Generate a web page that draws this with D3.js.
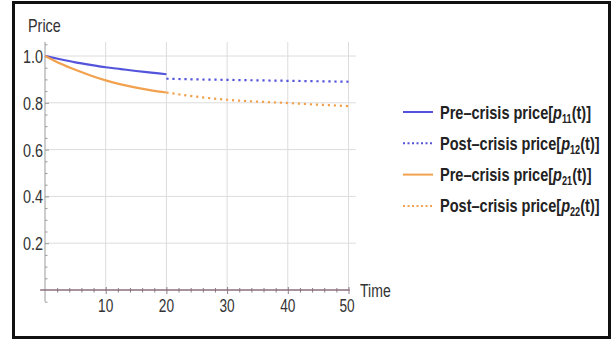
<!DOCTYPE html>
<html>
<head>
<meta charset="utf-8">
<script src="https://cdn.jsdelivr.net/npm/d3@7"></script>
<style>
  html, body { margin: 0; padding: 0; background: #fff; }
  svg { display: block; font-family: "Liberation Sans", Arial, sans-serif; }
</style>
</head>
<body>
<svg id="chart" width="613" height="343"></svg>
<script>
// Time grid and price paths before and after the crisis (t = 20)
const timePre  = [0, 2.5, 5, 7.5, 10, 12.5, 15, 17.5, 20];
const p11      = [1.0, 0.986, 0.973, 0.962, 0.952, 0.944, 0.936, 0.929, 0.922];
const p21      = [1.0, 0.968, 0.941, 0.917, 0.896, 0.879, 0.865, 0.853, 0.844];
const timePost = [20, 25, 30, 35, 40, 45, 50];
const p12      = [0.903, 0.900, 0.898, 0.896, 0.894, 0.892, 0.890];
const p22      = [0.844, 0.826, 0.813, 0.805, 0.799, 0.792, 0.786];

const xTicks = [10, 20, 30, 40, 50];
const yTicks = [0.2, 0.4, 0.6, 0.8, 1.0];

const legendLabels = [
  { pre: "Pre–crisis price[", sub: "11" },
  { pre: "Post–crisis price[", sub: "12" },
  { pre: "Pre–crisis price[", sub: "21" },
  { pre: "Post–crisis price[", sub: "22" }
];

const blue = "#5353dc";
const orange = "#f2a24e";

const svg = d3.select("#chart");

const x = d3.scaleLinear().domain([0, 50]).range([45, 348.5]);
const y = d3.scaleLinear().domain([0, 1]).range([290, 56]);

// outer frame
svg.append("rect")
  .attr("x", 13.5).attr("y", 2.5)
  .attr("width", 596).attr("height", 335)
  .attr("fill", "none").attr("stroke", "#111").attr("stroke-width", 3);

// grid
const grid = svg.append("g").attr("stroke", "#dcdcdc").attr("stroke-width", 1);
grid.selectAll("line.v").data(xTicks).join("line")
  .attr("x1", d => x(d)).attr("x2", d => x(d))
  .attr("y1", y(1.06)).attr("y2", y(0));
grid.selectAll("line.h").data(yTicks).join("line")
  .attr("x1", x(0)).attr("x2", x(51.2))
  .attr("y1", d => y(d)).attr("y2", d => y(d));

// y axis
const yAxis = d3.axisRight(y)
  .tickValues(yTicks).tickSize(4).tickFormat("");
const yMinor = d3.axisRight(y)
  .tickValues(d3.range(-0.05, 1.06, 0.05).filter(v => Math.abs(v * 5 - Math.round(v * 5)) > 1e-6))
  .tickSize(2.5).tickFormat("");
const gy = svg.append("g").attr("transform", `translate(${x(0)},0)`);
gy.call(yAxis);
gy.append("g").call(yMinor);
gy.selectAll(".domain").remove();
gy.selectAll("line").attr("stroke", "#999");
gy.append("line").attr("x1", 0).attr("x2", 0)
  .attr("y1", y(1.06)).attr("y2", y(-0.05))
  .attr("stroke", "#9a9a9a").attr("stroke-width", 1);

// x axis
const xMinor = d3.axisBottom(x)
  .tickValues(d3.range(2, 50, 2).filter(v => v % 10 !== 0))
  .tickSizeInner(2.5).tickSizeOuter(0).tickFormat("");
const xMajor = d3.axisBottom(x)
  .tickValues(xTicks).tickSizeInner(4).tickSizeOuter(0).tickFormat("");
const gx = svg.append("g").attr("transform", `translate(0,${y(0)})`);
gx.call(xMajor);
gx.append("g").call(xMinor);
gx.selectAll(".domain").remove();
gx.selectAll(".tick line").attr("stroke", "#8e7a86").attr("y1", d => xTicks.includes(d) ? -3 : -2);
gx.append("line").attr("x1", x(-0.8)).attr("x2", x(50.2))
  .attr("y1", 0).attr("y2", 0)
  .attr("stroke", "#8a6f7e").attr("stroke-width", 1.6);

// tick labels (condensed look)
svg.append("g").selectAll("text").data(yTicks).join("text")
  .attr("transform", d => `translate(43,${y(d) + 7}) scale(0.76,1)`)
  .attr("text-anchor", "end")
  .attr("font-size", 19).attr("fill", "#333")
  .text(d => d.toFixed(1));

svg.append("g").selectAll("text").data(xTicks).join("text")
  .attr("transform", d => `translate(${x(d) + (d === 50 ? -1.5 : 0)},${y(0) + 22}) scale(0.72,1)`)
  .attr("text-anchor", "middle")
  .attr("font-size", 19).attr("fill", "#333")
  .text(d => d);

svg.append("text")
  .attr("transform", "translate(360,297) scale(0.74,1)")
  .attr("font-size", 19).attr("fill", "#333").text("Time");
svg.append("text")
  .attr("transform", "translate(28,32) scale(0.8,1)")
  .attr("font-size", 18).attr("fill", "#333").text("Price");

// series
const line = d3.line().x(d => x(d[0])).y(d => y(d[1])).curve(d3.curveMonotoneX);
const series = [
  { t: timePre,  v: p11, color: blue,   dash: null },
  { t: timePost, v: p12, color: blue,   dash: "2.2,3.8" },
  { t: timePre,  v: p21, color: orange, dash: null },
  { t: timePost, v: p22, color: orange, dash: "2.2,3.8" }
];
svg.append("g").selectAll("path").data(series).join("path")
  .attr("d", s => line(s.t.map((t, i) => [t, s.v[i]])))
  .attr("fill", "none")
  .attr("stroke", s => s.color)
  .attr("stroke-width", 2.2)
  .attr("stroke-dasharray", s => s.dash);

// legend
const leg = svg.append("g");
const rows = leg.selectAll("g").data(series).join("g")
  .attr("transform", (d, i) => `translate(0,${112 + i * 31.3})`);
rows.append("line")
  .attr("x1", 403).attr("x2", 433).attr("y1", 0).attr("y2", 0)
  .attr("stroke", d => d.color).attr("stroke-width", 2)
  .attr("stroke-dasharray", d => d.dash ? "2,2.5" : null);
const lt = rows.append("text")
  .attr("transform", "translate(440,6.5) scale(0.765,1)")
  .attr("font-size", 19).attr("font-weight", "bold").attr("fill", "#222");
lt.append("tspan").text((d, i) => legendLabels[i].pre);
lt.append("tspan").attr("font-style", "italic").text("p");
lt.append("tspan").attr("font-size", 12).attr("dy", 4).text((d, i) => legendLabels[i].sub);
lt.append("tspan").attr("dy", -4).text("(t)]");
</script>
</body>
</html>
